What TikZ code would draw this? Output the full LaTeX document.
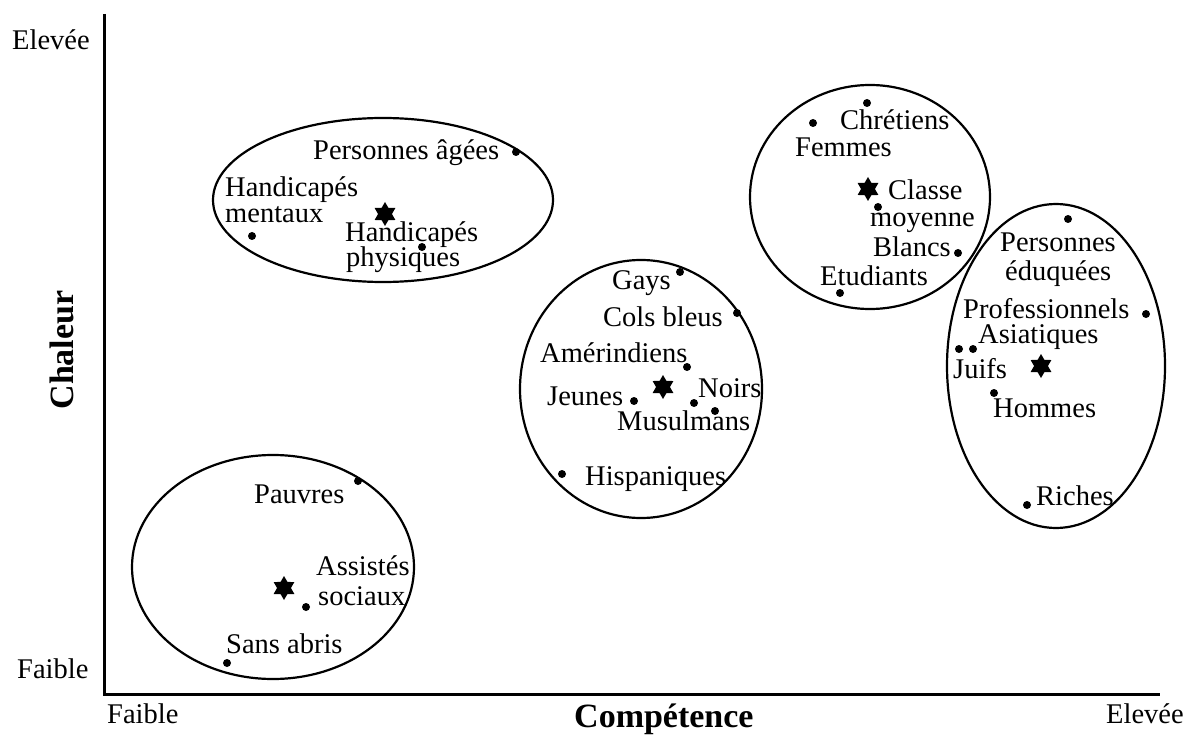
\documentclass[tikz,border=0pt]{standalone}
\usepackage{fontspec}
\setmainfont{Liberation Serif}
\usetikzlibrary{shapes.geometric}
\begin{document}
\begin{tikzpicture}[x=1pt,y=-1pt,
 lbl/.style={anchor=base west,inner sep=0pt,font=\fontsize{28.5}{28}\selectfont},
 dot/.style={circle,fill=black,inner sep=0pt,minimum size=8pt},
 starmark/.style={star,star points=6,star point ratio=1.73,fill=black,inner sep=0pt,minimum size=24pt},
 grp/.style={line width=2.2pt},
 axisline/.style={line width=3pt},
 axlbl/.style={inner sep=0pt,font=\fontsize{34}{34}\bfseries\selectfont}]
\useasboundingbox (0,0) rectangle (1196,735);
% axes
\coordinate (ytop) at (104,14);
\coordinate (orig) at (104,694);
\coordinate (xend) at (1160,694);
\draw[axisline] (ytop) -- (orig) -- (xend);
\node[lbl] (ytopl) at (12,50) {Elevée};
\node[lbl] (ybotl) at (17,678) {Faible};
\node[lbl] (xleftl) at (107,723) {Faible};
\node[lbl] (xrightl) at (1106,723) {Elevée};
\node[axlbl,anchor=base west] (xtitle) at (574,727) {Compétence};
\node[axlbl,rotate=90,anchor=base] (ytitle) at (73,350) {Chaleur};
% ellipses
\draw[grp] (383,200) ellipse (170pt and 82pt);
\draw[grp] (641,389) ellipse (121pt and 129pt);
\draw[grp] (870,197) ellipse (120pt and 112pt);
\draw[grp] (1056,366) ellipse (109pt and 162pt);
\draw[grp] (273,567) ellipse (141pt and 112pt);
% group 1
\node[dot] (dpa) at (516,152) {};
\node[lbl] (lpa) at (313,160) {Personnes âgées};
\node[dot] (dhm) at (252,236) {};
\node[lbl] (lhm1) at (225,197) {Handicapés};
\node[lbl] (lhm2) at (225,223) {mentaux};
\node[starmark] (s1) at (385,214) {};
\node[dot] (dhp) at (422,247) {};
\node[lbl] (lhp1) at (345,242) {Handicapés};
\node[lbl] (lhp2) at (346,267) {physiques};
% group 2
\node[dot] (dga) at (680,272) {};
\node[lbl] (lga) at (612,290) {Gays};
\node[dot] (dcb) at (737,313) {};
\node[lbl] (lcb) at (603,326) {Cols bleus};
\node[dot] (dam) at (687,367) {};
\node[lbl] (lam) at (540,362) {Amérindiens};
\node[starmark] (s2) at (663,387) {};
\node[dot] (dje) at (634,401) {};
\node[lbl] (lje) at (547,405) {Jeunes};
\node[dot] (dno) at (694,403) {};
\node[lbl] (lno) at (698,397) {Noirs};
\node[dot] (dmu) at (715,411) {};
\node[lbl] (lmu) at (617,430) {Musulmans};
\node[dot] (dhi) at (562,474) {};
\node[lbl] (lhi) at (585,485) {Hispaniques};
% group 3
\node[dot] (dch) at (867,103) {};
\node[lbl] (lch) at (840,130) {Chrétiens};
\node[dot] (dfe) at (813,123) {};
\node[lbl] (lfe) at (795,157) {Femmes};
\node[starmark] (s3) at (868,189) {};
\node[dot] (dcm) at (878,207) {};
\node[lbl] (lcm1) at (888,200) {Classe};
\node[lbl] (lcm2) at (870,227) {moyenne};
\node[dot] (dbl) at (958,253) {};
\node[lbl] (lbl) at (873,257) {Blancs};
\node[dot] (det) at (840,293) {};
\node[lbl] (let) at (820,285) {Etudiants};
% group 4
\node[dot] (dpe) at (1068,219) {};
\node[lbl] (lpe1) at (1000,252) {Personnes};
\node[lbl] (lpe2) at (1005,280) {éduquées};
\node[dot] (dpr) at (1146,314) {};
\node[lbl] (lpr) at (963,318) {Professionnels};
\node[dot] (das) at (973,349) {};
\node[lbl] (las) at (978,343) {Asiatiques};
\node[dot] (dju) at (959,349) {};
\node[lbl] (lju) at (953,378) {Juifs};
\node[starmark] (s4) at (1041,366) {};
\node[dot] (dho) at (994,393) {};
\node[lbl] (lho) at (993,417) {Hommes};
\node[dot] (dri) at (1027,505) {};
\node[lbl] (lri) at (1036,505) {Riches};
% group 5
\node[dot] (dpau) at (358,481) {};
\node[lbl] (lpau) at (254,503) {Pauvres};
\node[starmark] (s5) at (284,588) {};
\node[dot] (das2) at (306,607) {};
\node[lbl] (las1) at (316,575) {Assistés};
\node[lbl] (las2) at (318,605) {sociaux};
\node[dot] (dsa) at (227,663) {};
\node[lbl] (lsa) at (226,653) {Sans abris};
\end{tikzpicture}
\end{document}
